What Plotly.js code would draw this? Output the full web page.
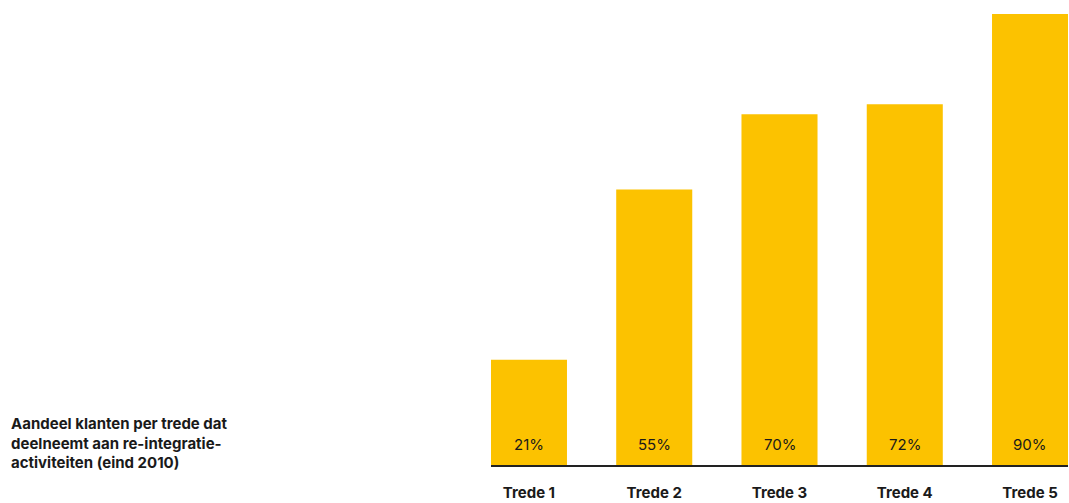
<!DOCTYPE html>
<html>
<head>
<meta charset="utf-8">
<script src="https://cdn.plot.ly/plotly-3.0.1.min.js"></script>
<style>html,body{margin:0;padding:0;background:#fff;}#chart{width:1069px;height:503px;}</style>
</head>
<body>
<div id="chart"></div>
<script>
const categories = ["Trede 1", "Trede 2", "Trede 3", "Trede 4", "Trede 5"];
const values = [21, 55, 70, 72, 90];
const valueLabels = ["21%", "55%", "70%", "72%", "90%"];
const titleLines = ["Aandeel klanten per trede dat", "deelneemt aan re-integratie-", "activiteiten (eind 2010)"];

const FONT = "Inter, 'Noto Sans', sans-serif";
const BAR = "#FCC200";
const INK = "#1a1a1a";

const trace = {
  type: "bar",
  x: categories,
  y: values,
  marker: {color: BAR},
  hoverinfo: "skip"
};

const annotations = categories.map((c, i) => ({
  x: c, y: 0, xref: "x", yref: "y",
  text: valueLabels[i], showarrow: false,
  yanchor: "bottom", yshift: 9,
  font: {family: FONT, size: 15, color: INK}
}));
annotations.push({
  xref: "paper", yref: "paper",
  x: -0.836, y: 0.049, xanchor: "left", yanchor: "middle", align: "left",
  text: titleLines.map(s => "<b>" + s + "</b>").join("<br>"),
  showarrow: false,
  font: {family: FONT, size: 15, color: INK}
});

const layout = {
  width: 1069, height: 503,
  margin: {l: 491, r: 1, t: 14, b: 38, pad: 0},
  paper_bgcolor: "#fff", plot_bgcolor: "#fff",
  bargap: 0.393,
  showlegend: false,
  xaxis: {
    type: "category",
    range: [-0.303, 4.303],
    showgrid: false, zeroline: false,
    showline: true, linecolor: "#222", linewidth: 2,
    ticks: "", ticklabelstandoff: 13,
    tickfont: {family: FONT, size: 15, color: INK, weight: "bold"},
    fixedrange: true
  },
  yaxis: {
    range: [0, 90],
    visible: false, showgrid: false, zeroline: false,
    fixedrange: true
  },
  annotations: annotations,
  font: {family: FONT, color: INK}
};

Plotly.newPlot("chart", [trace], layout, {displayModeBar: false, staticPlot: true});
</script>
</body>
</html>
